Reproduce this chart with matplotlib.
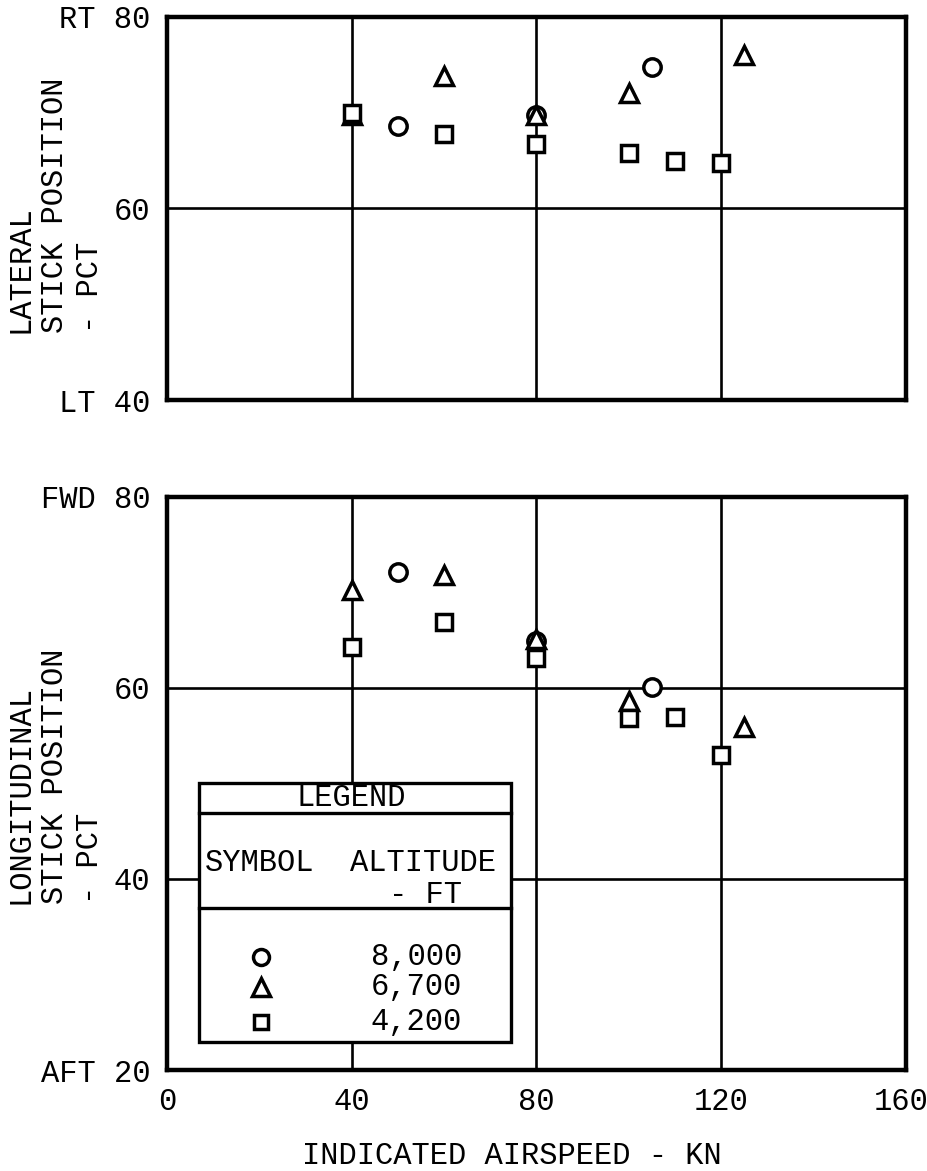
import matplotlib
matplotlib.use("Agg")
import matplotlib.pyplot as plt
from matplotlib.patches import Rectangle
from matplotlib.transforms import ScaledTranslation

plt.rcParams['font.family'] = ['Liberation Mono', 'DejaVu Sans Mono']

# ---- data ----
alt_labels = ["8,000", "6,700", "4,200"]
markers = ["o", "^", "s"]

# Lateral stick position (top panel)
lat_x_8000 = [50, 80, 105]
lat_y_8000 = [68.6, 69.8, 74.8]
lat_x_6700 = [40, 60, 80, 100, 125]
lat_y_6700 = [69.8, 73.8, 69.8, 72.1, 76.0]
lat_x_4200 = [40, 60, 80, 100, 110, 120]
lat_y_4200 = [70.0, 67.8, 66.7, 65.8, 65.0, 64.8]

# Longitudinal stick position (bottom panel)
lon_x_8000 = [50, 80, 105]
lon_y_8000 = [72.1, 64.9, 60.1]
lon_x_6700 = [40, 60, 80, 100, 125]
lon_y_6700 = [70.3, 71.8, 65.1, 58.6, 55.9]
lon_x_4200 = [40, 60, 80, 100, 110, 120]
lon_y_4200 = [64.3, 66.9, 63.1, 56.9, 57.0, 53.0]

x_ticks = [0, 40, 80, 120, 160]
top_yticks = [40, 60, 80]
top_yticklabels = ["LT 40", "60", "RT 80"]
bot_yticks = [20, 40, 60, 80]
bot_yticklabels = ["AFT 20", "40", "60", "FWD 80"]

FS = 22
W, H = 928, 1171
fig = plt.figure(figsize=(W / 100, H / 100), dpi=100)

def px_rect(l, t, r, b):
    return [l / W, 1 - b / H, (r - l) / W, (b - t) / H]

ax1 = fig.add_axes(px_rect(167, 17, 906, 400))
ax2 = fig.add_axes(px_rect(167, 497, 906, 1070))

mstyle = dict(linestyle="none", markerfacecolor="white", markeredgecolor="black",
              markeredgewidth=2.5, color="black", zorder=5, clip_on=False)
msizes = {"o": 12.5, "^": 13.5, "s": 11.5}

def style_axes(ax, yticks, ylabels, ylim):
    ax.set_xlim(0, 160)
    ax.set_ylim(*ylim)
    ax.set_xticks(x_ticks)
    ax.set_yticks(yticks)
    ax.set_yticklabels(ylabels)
    ax.tick_params(length=0, labelsize=FS, pad=12)
    ax.grid(True, color="black", linewidth=1.9, zorder=1)
    ax.set_axisbelow(True)
    for s in ax.spines.values():
        s.set_linewidth(3.2)
        s.set_zorder(6)

style_axes(ax1, top_yticks, top_yticklabels, (40, 80))
ax1.tick_params(labelbottom=False)
style_axes(ax2, bot_yticks, bot_yticklabels, (20, 80))

# nudge the last x tick label so it stays inside the figure
last = ax2.get_xticklabels()[-1]
last.set_transform(last.get_transform() + ScaledTranslation(-5 / 100, 0, fig.dpi_scale_trans))

for ax, series in [
    (ax1, [(lat_x_8000, lat_y_8000), (lat_x_6700, lat_y_6700), (lat_x_4200, lat_y_4200)]),
    (ax2, [(lon_x_8000, lon_y_8000), (lon_x_6700, lon_y_6700), (lon_x_4200, lon_y_4200)]),
]:
    for (xs, ys), m in zip(series, markers):
        ax.plot(xs, ys, marker=m, markersize=msizes[m], **mstyle)

# y labels
fig.text(55 / W, 1 - 205 / H, "LATERAL\nSTICK POSITION\n- PCT", rotation=90,
         ha="center", va="center", multialignment="left", fontsize=FS, linespacing=1.2)
fig.text(55 / W, 1 - 776 / H, "LONGITUDINAL\nSTICK POSITION\n- PCT", rotation=90,
         ha="center", va="center", multialignment="left", fontsize=FS, linespacing=1.2)

fig.text(512 / W, 1 - 1156 / H, "INDICATED AIRSPEED - KN", ha="center", va="center",
         fontsize=FS)

# legend box
T = ax2.transAxes
lx0, lx1, ly0, ly1 = 0.043, 0.4655, 0.049, 0.501
ax2.add_patch(Rectangle((lx0, ly0), lx1 - lx0, ly1 - ly0, transform=T,
                        facecolor="white", edgecolor="black", linewidth=2.4, zorder=3))
for yy in [0.4485, 0.283]:
    ax2.plot([lx0, lx1], [yy, yy], transform=T, color="black", linewidth=2.4, zorder=4)
ax2.text(0.249, 0.475, "LEGEND", transform=T, ha="center", va="center", fontsize=FS, zorder=4)
ax2.text(0.051, 0.361, "SYMBOL", transform=T, ha="left", va="center", fontsize=FS, zorder=4)
ax2.text(0.248, 0.361, "ALTITUDE", transform=T, ha="left", va="center", fontsize=FS, zorder=4)
ax2.text(0.399, 0.305, "- FT", transform=T, ha="right", va="center", fontsize=FS, zorder=4)
for m, lab, yy in zip(markers, alt_labels, [0.197, 0.145, 0.084]):
    ax2.plot([0.127], [yy], transform=T, marker=m, markersize=msizes[m] - 1,
             linestyle="none", markerfacecolor="white", markeredgecolor="black",
             markeredgewidth=2.5, zorder=5)
    ax2.text(0.399, yy, lab, transform=T, ha="right", va="center", fontsize=FS, zorder=5)

fig.savefig("out.png", dpi=100, facecolor="white")
